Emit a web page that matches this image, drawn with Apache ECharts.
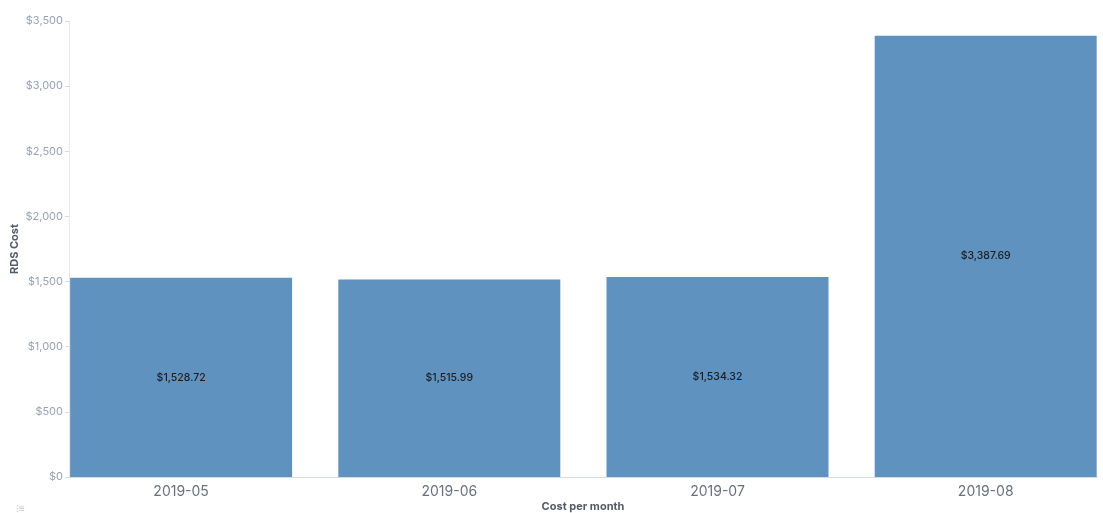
<!DOCTYPE html>
<html>
<head>
<meta charset="utf-8">
<script src="https://cdn.jsdelivr.net/npm/echarts@6/dist/echarts.min.js"></script>
<style>
  html, body { margin: 0; padding: 0; background: #fff; }
  #chart { width: 1103px; height: 513px; }
</style>
</head>
<body>
<div id="chart"></div>
<script>
// Monthly RDS cost
const months = ['2019-05', '2019-06', '2019-07', '2019-08'];
const costs = [1528.72, 1515.99, 1534.32, 3387.69];
const yTicks = [0, 500, 1000, 1500, 2000, 2500, 3000, 3500];

const money0 = v => '$' + Math.round(v).toLocaleString('en-US');
const money2 = v => '$' + v.toLocaleString('en-US', { minimumFractionDigits: 2, maximumFractionDigits: 2 });

const chart = echarts.init(document.getElementById('chart'), null, { renderer: 'canvas' });

chart.setOption({
  animation: false,
  textStyle: { fontFamily: 'Inter, Roboto, sans-serif' },
  grid: { left: 69, right: 6, top: 21, bottom: 36, containLabel: false, outerBoundsMode: 'none' },
  xAxis: {
    type: 'value',
    min: -0.418,
    max: 3.415,
    name: 'Cost per month',
    nameLocation: 'middle',
    nameGap: 24,
    nameMoveOverlap: false,
    nameTextStyle: { fontSize: 11, fontWeight: 'bold', color: '#535966' },
    axisLine: { show: true, onZero: false, lineStyle: { color: '#d3dae6', width: 1 } },
    axisTick: { show: false },
    splitLine: { show: false },
    axisLabel: {
      customValues: months.map((m, i) => i),
      formatter: v => months[Math.round(v)] || '',
      fontSize: 14,
      color: '#69707d',
      margin: 8
    }
  },
  yAxis: {
    type: 'value',
    min: 0,
    max: yTicks[yTicks.length - 1],
    interval: 500,
    name: 'RDS Cost',
    nameLocation: 'middle',
    nameGap: 49,
    nameMoveOverlap: false,
    nameTextStyle: { fontSize: 11, fontWeight: 'bold', color: '#535966' },
    axisLine: { show: true, onZero: false, lineStyle: { color: '#e3e7ee', width: 1 } },
    axisTick: { show: true, length: 4, lineStyle: { color: '#d3dae6' } },
    splitLine: { show: false },
    axisLabel: {
      formatter: money0,
      fontSize: 11,
      color: '#98a2b3',
      margin: 6
    }
  },
  series: [{
    type: 'bar',
    data: costs.map((c, i) => [i, c]),
    barWidth: 222,
    itemStyle: { color: '#6092c0' },
    label: {
      show: true,
      position: 'inside',
      formatter: p => money2(p.value[1]),
      fontSize: 10.5,
      fontWeight: 500,
      color: '#1a1c21'
    }
  }],
  graphic: [{
    type: 'text',
    left: 16,
    top: 504,
    style: { text: '⁝≡', fontSize: 10, fill: '#c0c6d1' }
  }]
});
</script>
</body>
</html>
